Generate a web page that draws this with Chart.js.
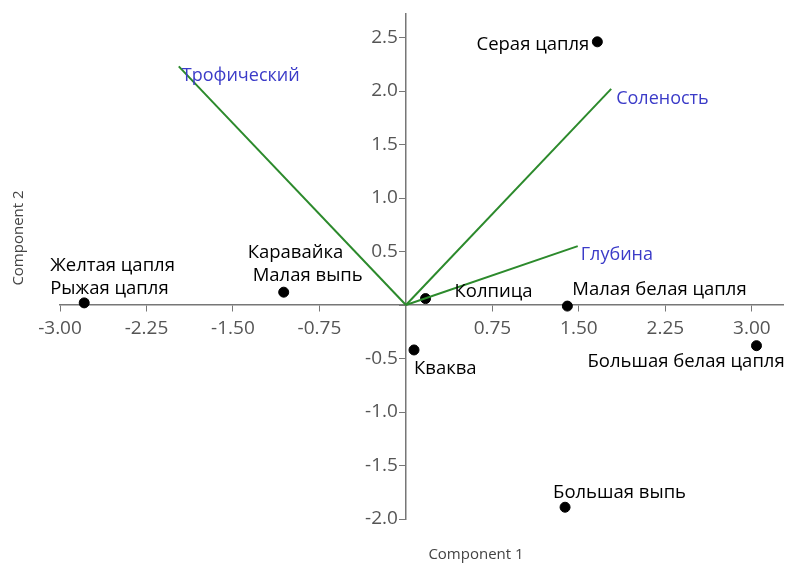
<!DOCTYPE html>
<html>
<head>
<meta charset="utf-8">
<script src="https://cdn.jsdelivr.net/npm/chart.js@4"></script>
<style>
  html, body { margin: 0; padding: 0; background: #fff; }
  #wrap { width: 789px; height: 567px; }
</style>
</head>
<body>
<div id="wrap"><canvas id="chart" width="789" height="567"></canvas></div>
<script>
// species scores
const species = ['Серая цапля', 'Желтая цапля\nРыжая цапля', 'Каравайка\nМалая выпь', 'Колпица',
                 'Малая белая цапля', 'Кваква', 'Большая белая цапля', 'Большая выпь'];
const comp1 = [1.66, -2.79, -1.06, 0.17, 1.40, 0.07, 3.04, 1.38];
const comp2 = [2.46, 0.02, 0.12, 0.06, -0.01, -0.42, -0.38, -1.89];

// variable loadings (vectors)
const variables = ['Трофический', 'Соленость', 'Глубина'];
const load1 = [-1.97, 1.78, 1.49];
const load2 = [2.23, 2.02, 0.55];

const xTicks = [-3.00, -2.25, -1.50, -0.75, 0, 0.75, 1.50, 2.25, 3.00];
const yTicks = [-2.0, -1.5, -1.0, -0.5, 0, 0.5, 1.0, 1.5, 2.0, 2.5];

// label placement in pixels relative to the point [dx, dy, align, second line dx]
const speciesLabelPos = [
  [-8, 3, 'right', 0], [-34, -37, 'left', 0], [-36, -39, 'left', 5], [29, -7, 'left', 0],
  [5, -16, 'left', 0], [0, 19, 'left', 0], [-169, 16, 'left', 0], [-12, -14, 'left', 0]
];
const varLabelPos = [[3, 9, 'left'], [5, 10, 'left'], [3, 9, 'left']];

const labelPlugin = {
  id: 'labels',
  afterDatasetsDraw(chart) {
    const ctx = chart.ctx;
    const xs = chart.scales.x, ys = chart.scales.y;
    ctx.save();
    // y tick labels, left of the centred axis
    const x0 = xs.getPixelForValue(0);
    ctx.font = '19px "Open Sans"';
    ctx.fillStyle = '#555';
    ctx.textAlign = 'right';
    ctx.textBaseline = 'middle';
    yTicks.forEach(v => {
      if (v !== 0) ctx.fillText(v.toFixed(1), x0 - 8, ys.getPixelForValue(v));
    });

    ctx.font = '18.5px "Open Sans"';
    ctx.fillStyle = '#000';
    species.forEach((name, i) => {
      const px = xs.getPixelForValue(comp1[i]);
      const py = ys.getPixelForValue(comp2[i]);
      const [dx, dy, al, dx2] = speciesLabelPos[i];
      ctx.textAlign = al;
      name.split('\n').forEach((line, k) => {
        ctx.fillText(line, px + dx + (k === 1 ? dx2 : 0), py + dy + k * 22.5);
      });
    });
    ctx.font = '18px "Open Sans"';
    ctx.fillStyle = '#3b3bc8';
    variables.forEach((name, i) => {
      const px = xs.getPixelForValue(load1[i]);
      const py = ys.getPixelForValue(load2[i]);
      const [dx, dy, al] = varLabelPos[i];
      ctx.textAlign = al;
      ctx.fillText(name, px + dx, py + dy);
    });
    // axis titles
    ctx.fillStyle = '#444';
    ctx.font = '15px "Open Sans"';
    ctx.textAlign = 'center';
    ctx.fillText('Component 1', 476, 555);
    ctx.translate(19, 238);
    ctx.rotate(-Math.PI / 2);
    ctx.fillText('Component 2', 0, 0);
    ctx.restore();
  }
};

const vectorSets = variables.map((name, i) => ({
  type: 'line',
  label: name,
  data: [{ x: 0, y: 0 }, { x: load1[i], y: load2[i] }],
  borderColor: '#2c8a2c',
  borderWidth: 2,
  pointRadius: 0,
  fill: false
}));

const ctx = document.getElementById('chart').getContext('2d');
new Chart(ctx, {
  type: 'scatter',
  data: {
    datasets: [
      ...vectorSets,
      {
        label: 'species',
        data: species.map((s, i) => ({ x: comp1[i], y: comp2[i] })),
        backgroundColor: '#000',
        borderColor: '#000',
        pointRadius: 5
      }
    ]
  },
  options: {
    responsive: false,
    animation: false,
    layout: { padding: { left: 60, right: 0, top: 14, bottom: 48 } },
    plugins: { legend: { display: false }, tooltip: { enabled: false } },
    scales: {
      x: {
        type: 'linear',
        position: { y: 0 },
        min: -3.0,
        max: 3.27,
        afterBuildTicks: s => { s.ticks = xTicks.map(v => ({ value: v })); },
        grid: { drawOnChartArea: false, drawTicks: true, tickLength: 6, color: '#777' },
        border: { color: '#777', width: 1.5 },
        ticks: {
          color: '#555',
          font: { family: 'Open Sans', size: 19 },
          padding: 6,
          callback: v => v === 0 ? '' : v.toFixed(2)
        }
      },
      y: {
        type: 'linear',
        position: { x: 0 },
        min: -2.0,
        max: 2.72,
        afterBuildTicks: s => { s.ticks = yTicks.map(v => ({ value: v })); },
        grid: { drawOnChartArea: false, drawTicks: true, tickLength: 6, color: '#777' },
        border: { color: '#777', width: 1.5 },
        ticks: { display: false }
      }
    }
  },
  plugins: [labelPlugin]
});
</script>
</body>
</html>
